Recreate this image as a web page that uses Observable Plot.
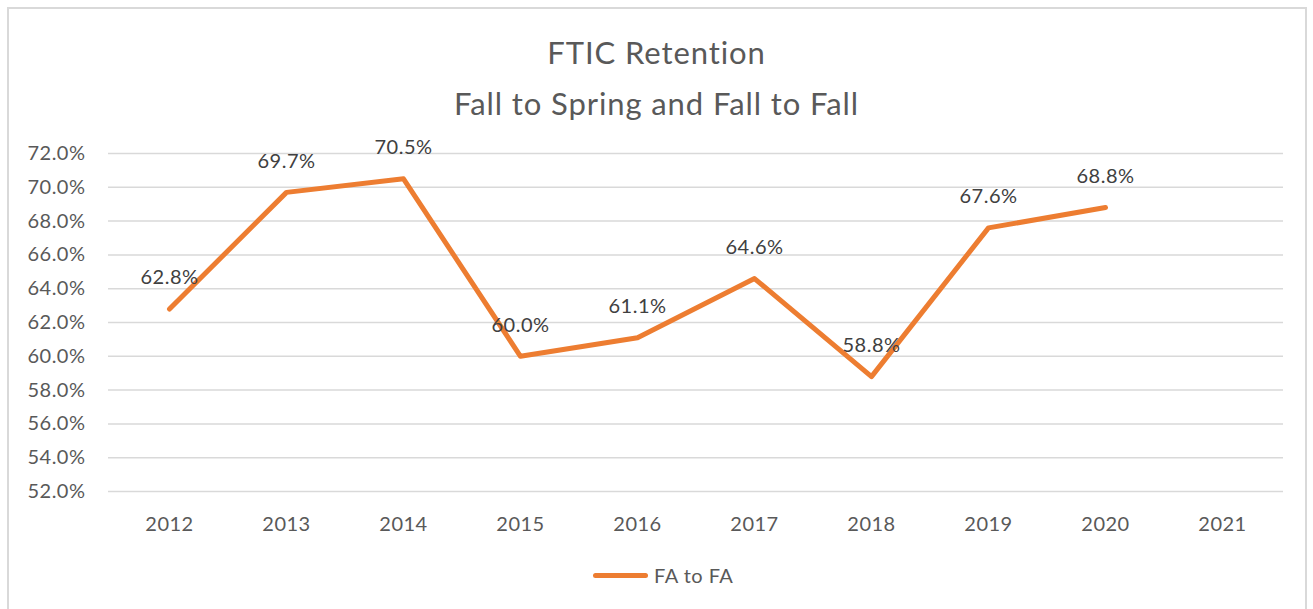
<!DOCTYPE html>
<html>
<head>
<meta charset="utf-8">
<script src="https://cdn.jsdelivr.net/npm/d3@7"></script>
<script src="https://cdn.jsdelivr.net/npm/@observablehq/plot@0.6"></script>
<style>
  html, body { margin: 0; padding: 0; background: #fff; }
  body { width: 1313px; height: 609px; position: relative; overflow: hidden; font-family: Lato, "Open Sans", sans-serif; }
  #frame { position: absolute; left: 7px; top: 7px; width: 1300px; height: 604px; box-sizing: border-box; border: 2px solid #d9d9d9; }
  .title { position: absolute; left: 0; width: 1313px; text-align: center; color: #595959; font-size: 31px; letter-spacing: 0.9px; line-height: 37px; white-space: nowrap; }
  #chart { position: absolute; left: 0; top: 0; }
  #legend { position: absolute; left: 593px; top: 562px; height: 26px; display: flex; align-items: center; color: #595959; font-size: 20px; letter-spacing: 0.5px; }
  #legend .sw { width: 55px; height: 5px; background: #ed7d31; border-radius: 3px; margin-right: 6px; }
  #chart svg text { letter-spacing: 0.5px; }
</style>
</head>
<body>
<div id="frame"></div>
<div class="title" style="top:34px">FTIC Retention</div>
<div class="title" style="top:85px">Fall to Spring and Fall to Fall</div>
<div id="chart"></div>
<div id="legend"><div class="sw"></div><span>FA to FA</span></div>
<script>
const years = ["2012","2013","2014","2015","2016","2017","2018","2019","2020","2021"];
const faToFa = [62.8, 69.7, 70.5, 60.0, 61.1, 64.6, 58.8, 67.6, 68.8, null];
const yTicks = [52, 54, 56, 58, 60, 62, 64, 66, 68, 70, 72];

const data = years.map((y, i) => ({year: y, value: faToFa[i]}));
const pts = data.filter(d => d.value != null);

const plot = Plot.plot({
  width: 1313,
  height: 609,
  marginLeft: 108,
  marginRight: 30,
  marginTop: 153,
  marginBottom: 118,
  style: {fontFamily: "Lato, 'Open Sans', sans-serif", fontSize: "20px", color: "#595959", background: "transparent", overflow: "visible"},
  x: {type: "point", domain: years, padding: 0.5},
  y: {domain: [52, 72]},
  marks: [
    Plot.gridY(yTicks, {stroke: "#d9d9d9", strokeOpacity: 1, strokeWidth: 1.5}),
    Plot.axisY(yTicks, {tickSize: 0, tickPadding: 23, tickFormat: d => d.toFixed(1) + "%", fill: "#595959", fontSize: 20, label: null}),
    Plot.axisX({tickSize: 0, tickPadding: 25, fill: "#595959", fontSize: 20, label: null}),
    Plot.line(pts, {x: "year", y: "value", stroke: "#ed7d31", strokeWidth: 5, strokeLinecap: "round", strokeLinejoin: "round"}),
    Plot.text(pts, {x: "year", y: "value", text: d => d.value.toFixed(1) + "%", dy: -31, fill: "#404040", fontSize: 20})
  ]
});
document.getElementById("chart").appendChild(plot);
</script>
</body>
</html>
